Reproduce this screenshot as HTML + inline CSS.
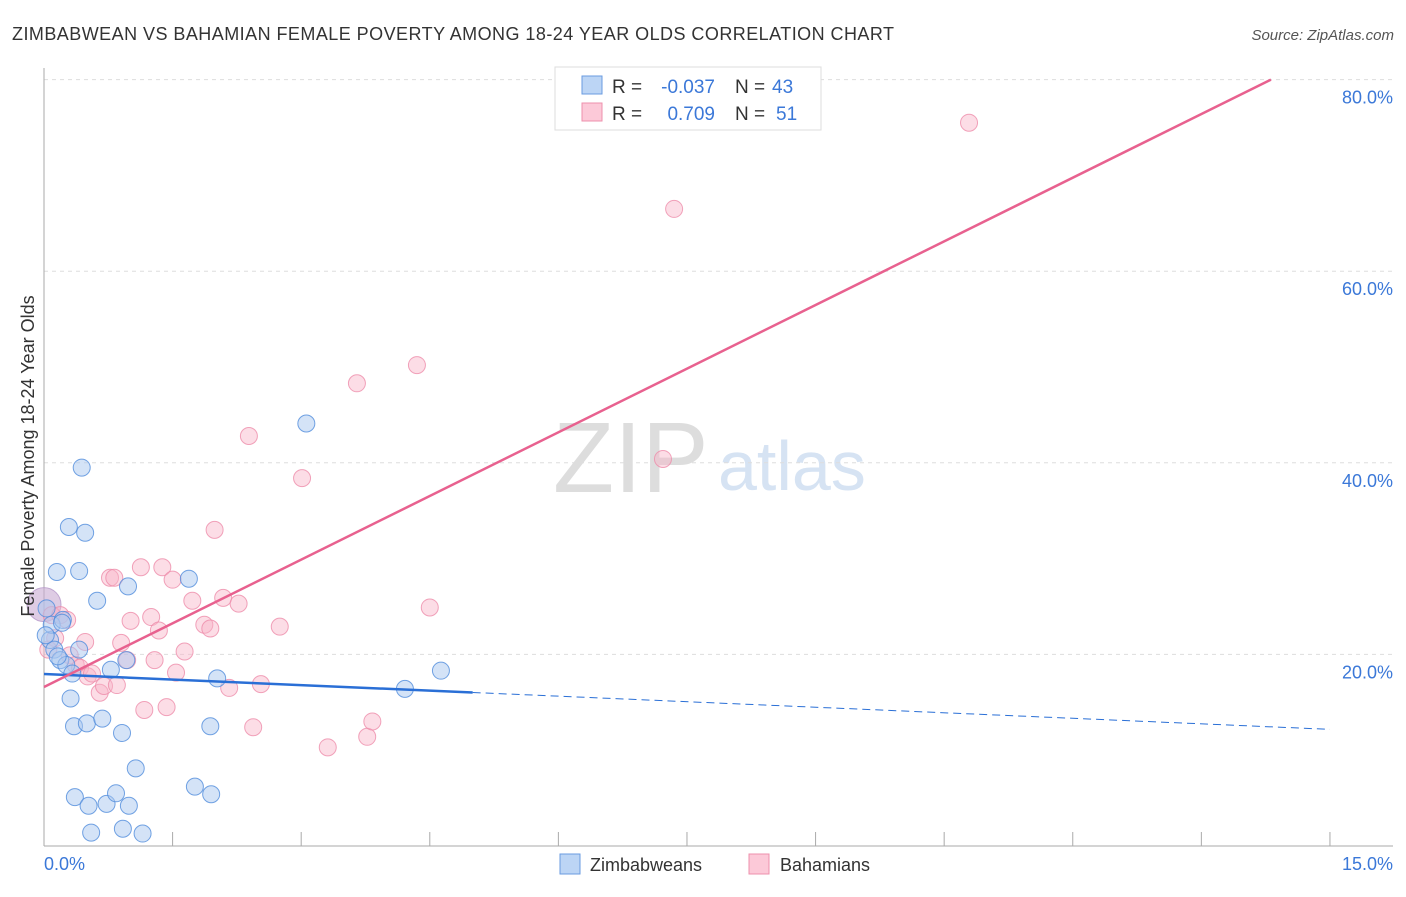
<!DOCTYPE html>
<html><head><meta charset="utf-8"><style>
body{margin:0;background:#fff;font-family:"Liberation Sans",sans-serif}
svg text{font-family:"Liberation Sans",sans-serif}
</style></head><body>
<svg id="c" width="1406" height="892">
<text x="12" y="40" font-size="18" fill="#333" textLength="882">ZIMBABWEAN VS BAHAMIAN FEMALE POVERTY AMONG 18-24 YEAR OLDS CORRELATION CHART</text>
<text x="1394" y="40" font-size="15" fill="#555" text-anchor="end" font-style="italic">Source: ZipAtlas.com</text>
<text x="553" y="492" font-size="100" fill="#ddd" font-family="Liberation Serif">ZIP</text>
<text x="718" y="490" font-size="70" fill="#d6e3f3">atlas</text>
<g id="grid"></g><g id="pts"></g><g id="lines"></g>
<text transform="translate(34,456) rotate(-90)" font-size="18" fill="#333" text-anchor="middle">Female Poverty Among 18-24 Year Olds</text>
<text x="44" y="870" font-size="18" fill="#3b78d8">0.0%</text>
<text x="1393" y="870" font-size="18" fill="#3b78d8" text-anchor="end">15.0%</text>
<g>
<rect x="555" y="67" width="266" height="63" fill="#fff" stroke="#ddd"/>
<rect x="582" y="76" width="20" height="18" fill="#bcd5f5" stroke="#6a9be0"/>
<rect x="582" y="103" width="20" height="18" fill="#fcc9d8" stroke="#ee90ac"/>
<text x="612" y="93" font-size="19" fill="#333">R =</text>
<text x="715" y="93" font-size="19" fill="#3b78d8" text-anchor="end">-0.037</text>
<text x="735" y="93" font-size="19" fill="#333">N =</text>
<text x="772" y="93" font-size="19" fill="#3b78d8">43</text>
<text x="612" y="120" font-size="19" fill="#333">R =</text>
<text x="715" y="120" font-size="19" fill="#3b78d8" text-anchor="end">0.709</text>
<text x="735" y="120" font-size="19" fill="#333">N =</text>
<text x="776" y="120" font-size="19" fill="#3b78d8">51</text>
</g>
<g>
<rect x="560" y="854" width="20" height="20" fill="#bcd5f5" stroke="#6a9be0"/>
<text x="590" y="871" font-size="18" fill="#333">Zimbabweans</text>
<rect x="749" y="854" width="20" height="20" fill="#fcc9d8" stroke="#ee90ac"/>
<text x="780" y="871" font-size="18" fill="#333">Bahamians</text>
</g>
</svg>
<script>
const yTicks=[20,40,60,80];
const blueX=[0.03,0.07,0.09,0.12,0.15,0.19,0.22,0.26,0.29,0.33,0.31,0.35,0.41,0.41,0.44,0.48,0.50,0.62,0.68,0.78,0.91,0.96,0.98,1.07,0.36,0.52,0.73,0.84,0.99,0.55,0.92,1.15,1.69,1.76,1.94,1.95,2.02,3.06,4.21,4.63,0.02,0.16,0.21];
const blueY=[24.8,21.5,23.1,20.5,28.6,19.4,23.6,18.9,33.3,18.0,15.4,12.5,28.7,20.5,39.5,32.7,12.8,25.6,13.3,18.4,11.8,19.4,27.1,8.1,5.1,4.2,4.4,5.5,4.2,1.4,1.8,1.3,27.9,6.2,12.5,5.4,17.5,44.1,16.4,18.3,22.0,19.8,23.3];
const pinkX=[0.09,0.13,0.19,0.27,0.30,0.37,0.42,0.48,0.51,0.56,0.65,0.70,0.77,0.82,0.85,0.90,0.97,1.01,1.13,1.17,1.25,1.29,1.34,1.38,1.43,1.50,1.54,1.64,1.73,1.87,1.94,1.99,2.09,2.16,2.27,2.39,2.44,2.53,2.75,3.01,3.31,3.65,3.77,3.83,4.35,4.50,7.22,7.35,10.79,0.05];
const pinkY=[24.1,21.7,24.1,23.6,19.9,18.9,18.6,21.3,17.7,18.0,16.0,16.7,28.0,28.0,16.8,21.2,19.4,23.5,29.1,14.2,23.9,19.4,22.5,29.1,14.5,27.8,18.1,20.3,25.6,23.1,22.7,33.0,25.9,16.5,25.3,42.8,12.4,16.9,22.9,38.4,10.3,48.3,11.4,13.0,50.2,24.9,40.4,66.5,75.5,20.5];
const bigX=[0.0], bigY=[25.2];
const blueTrend=[17.95,-0.385], pinkTrend=[16.6,4.43];
const X=v=>44+v*85.73, Y=v=>846-v*9.58;
const NS='http://www.w3.org/2000/svg';
function mk(p,t,a){const e=document.createElementNS(NS,t);for(const k in a)e.setAttribute(k,a[k]);p.appendChild(e);return e;}
const g=document.getElementById('grid');
yTicks.forEach(v=>{const l=mk(g,'line',{x1:44,x2:1393,y1:Y(v),y2:Y(v),stroke:'#ddd','stroke-dasharray':'4,4'});


const t=mk(g,'text',{x:1393,y:Y(v)+24,'font-size':18,fill:'#3b78d8','text-anchor':'end'});t.textContent=v.toFixed(1)+'%';

});
const ax=mk(g,'line',{x1:44,x2:44,y1:68,y2:846,stroke:'#aaa'});


const bx=mk(g,'line',{x1:44,x2:1393,y1:846,y2:846,stroke:'#aaa'});


for(let i=1;i<=10;i++){const t=mk(g,'line',{x1:X(i*1.5),x2:X(i*1.5),y1:832,y2:846,stroke:'#aaa'});

}
const p=document.getElementById('pts');
bigX.forEach((x,i)=>{const c=mk(p,'circle',{cx:X(x),cy:Y(bigY[i]),r:17,fill:'rgba(200,170,210,0.6)',stroke:'rgba(180,150,200,0.8)'});

});
pinkX.forEach((x,i)=>{const c=mk(p,'circle',{cx:X(x),cy:Y(pinkY[i]),r:8.5,fill:'rgba(248,180,200,0.45)',stroke:'rgba(238,140,170,0.8)'});

});
blueX.forEach((x,i)=>{const c=mk(p,'circle',{cx:X(x),cy:Y(blueY[i]),r:8.5,fill:'rgba(170,200,240,0.5)',stroke:'rgba(80,140,220,0.8)'});

});
const L=document.getElementById('lines');
const bf=x=>blueTrend[0]+blueTrend[1]*x, pf=x=>pinkTrend[0]+pinkTrend[1]*x;
let l=mk(L,'line',{x1:X(0),y1:Y(bf(0)),x2:X(5),y2:Y(bf(5)),stroke:'#2a6fd6','stroke-width':2.5});


l=mk(L,'line',{x1:X(5),y1:Y(bf(5)),x2:X(15),y2:Y(bf(15)),stroke:'#2a6fd6','stroke-width':1,'stroke-dasharray':'8,5'});


const xe=(80-pinkTrend[0])/pinkTrend[1];
l=mk(L,'line',{x1:X(0),y1:Y(pf(0)),x2:X(xe),y2:Y(80),stroke:'#e8618f','stroke-width':2.5});


</script>
</body></html>
